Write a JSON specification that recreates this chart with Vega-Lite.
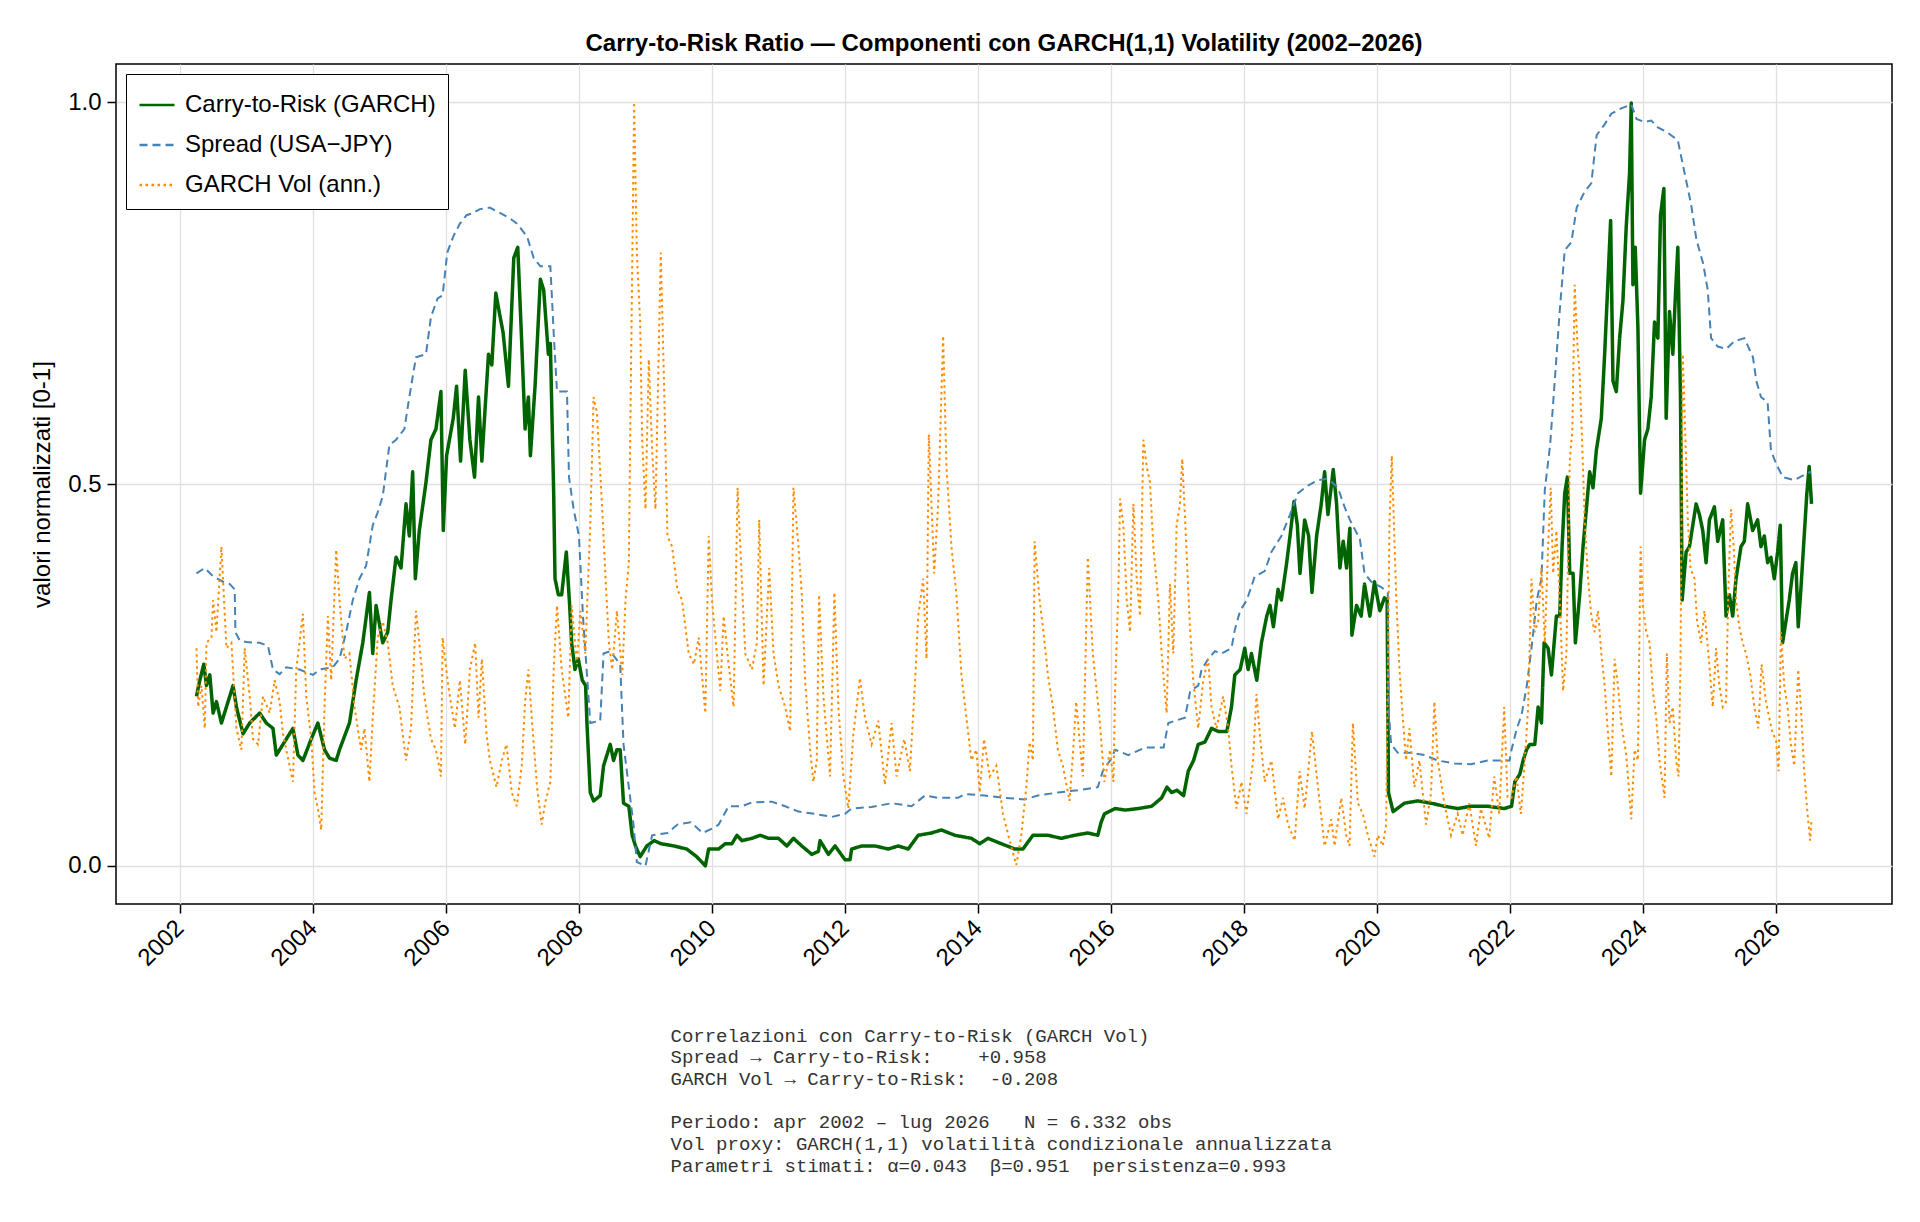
{
  "$schema": "https://vega.github.io/schema/vega-lite/v6.json",
  "width": 1776,
  "height": 840,
  "autosize": {"type": "none"},
  "padding": {"left": 116, "top": 64, "right": 28, "bottom": 318},
  "background": "white",
  "title": {
    "text": "Carry-to-Risk Ratio — Componenti con GARCH(1,1) Volatility (2002–2026)",
    "font": "Liberation Sans",
    "fontSize": 24,
    "fontWeight": "bold",
    "color": "black",
    "anchor": "middle",
    "offset": 8
  },
  "config": {
    "font": "Liberation Sans",
    "view": {"stroke": "black", "strokeWidth": 1.5},
    "axis": {
      "domain": false,
      "grid": true,
      "gridColor": "#e0e0e0",
      "gridWidth": 1.3,
      "tickColor": "black",
      "tickWidth": 1.5,
      "tickSize": 9,
      "labelFont": "Liberation Sans",
      "labelFontSize": 24,
      "labelColor": "black",
      "titleFont": "Liberation Sans",
      "titleFontSize": 24,
      "titleFontWeight": "normal",
      "titleColor": "black"
    },
    "legend": {
      "orient": "top-left",
      "offset": 10,
      "padding": 12,
      "strokeColor": "black",
      "fillColor": "white",
      "labelFont": "Liberation Sans",
      "labelFontSize": 24,
      "labelColor": "black",
      "labelOffset": 9,
      "labelLimit": 0,
      "rowPadding": 9,
      "symbolSize": 1225,
      "symbolType": "stroke",
      "symbolStrokeWidth": 2.5,
      "cornerRadius": 0
    }
  },
  "datasets": {
    "carry": [
      {"t":2002.25,"v":0.222},{"t":2002.30,"v":0.243},{"t":2002.36,"v":0.264},{"t":2002.40,"v":0.236},{"t":2002.45,"v":0.25},
      {"t":2002.50,"v":0.20},{"t":2002.55,"v":0.215},{"t":2002.625,"v":0.187},{"t":2002.70,"v":0.208},{"t":2002.80,"v":0.236},
      {"t":2002.85,"v":0.208},{"t":2002.95,"v":0.173},{"t":2003.05,"v":0.187},{"t":2003.20,"v":0.20},{"t":2003.30,"v":0.187},
      {"t":2003.40,"v":0.18},{"t":2003.45,"v":0.145},{"t":2003.55,"v":0.159},{"t":2003.70,"v":0.18},{"t":2003.775,"v":0.145},
      {"t":2003.85,"v":0.138},{"t":2003.975,"v":0.166},{"t":2004.075,"v":0.187},{"t":2004.175,"v":0.152},{"t":2004.25,"v":0.141},
      {"t":2004.35,"v":0.138},{"t":2004.40,"v":0.152},{"t":2004.55,"v":0.187},{"t":2004.65,"v":0.243},{"t":2004.75,"v":0.292},
      {"t":2004.85,"v":0.358},{"t":2004.90,"v":0.278},{"t":2004.95,"v":0.341},{"t":2005.05,"v":0.292},{"t":2005.125,"v":0.306},
      {"t":2005.175,"v":0.348},{"t":2005.25,"v":0.404},{"t":2005.325,"v":0.39},{"t":2005.40,"v":0.474},{"t":2005.45,"v":0.432},
      {"t":2005.50,"v":0.516},{"t":2005.54,"v":0.376},{"t":2005.60,"v":0.439},{"t":2005.70,"v":0.502},{"t":2005.775,"v":0.558},
      {"t":2005.85,"v":0.572},{"t":2005.925,"v":0.621},{"t":2005.96,"v":0.439},{"t":2006.01,"v":0.537},{"t":2006.11,"v":0.586},
      {"t":2006.16,"v":0.628},{"t":2006.22,"v":0.53},{"t":2006.29,"v":0.649},{"t":2006.36,"v":0.558},{"t":2006.43,"v":0.509},
      {"t":2006.49,"v":0.614},{"t":2006.54,"v":0.53},{"t":2006.64,"v":0.67},{"t":2006.69,"v":0.656},{"t":2006.75,"v":0.75},
      {"t":2006.80,"v":0.726},{"t":2006.86,"v":0.698},{"t":2006.94,"v":0.628},{"t":2007.02,"v":0.796},{"t":2007.08,"v":0.81},
      {"t":2007.14,"v":0.684},{"t":2007.19,"v":0.572},{"t":2007.24,"v":0.614},{"t":2007.27,"v":0.537},{"t":2007.34,"v":0.628},
      {"t":2007.42,"v":0.768},{"t":2007.47,"v":0.754},{"t":2007.54,"v":0.67},{"t":2007.57,"v":0.684},{"t":2007.62,"v":0.488},
      {"t":2007.64,"v":0.376},{"t":2007.69,"v":0.355},{"t":2007.74,"v":0.355},{"t":2007.81,"v":0.411},{"t":2007.86,"v":0.341},
      {"t":2007.89,"v":0.292},{"t":2007.94,"v":0.257},{"t":2007.99,"v":0.271},{"t":2008.05,"v":0.243},{"t":2008.10,"v":0.236},
      {"t":2008.12,"v":0.187},{"t":2008.17,"v":0.096},{"t":2008.22,"v":0.085},{"t":2008.32,"v":0.092},{"t":2008.37,"v":0.131},
      {"t":2008.42,"v":0.145},{"t":2008.47,"v":0.159},{"t":2008.52,"v":0.138},{"t":2008.57,"v":0.152},{"t":2008.62,"v":0.152},
      {"t":2008.67,"v":0.082},{"t":2008.75,"v":0.078},{"t":2008.80,"v":0.04},{"t":2008.85,"v":0.026},{"t":2008.92,"v":0.012},
      {"t":2009.02,"v":0.026},{"t":2009.13,"v":0.033},{"t":2009.23,"v":0.029},{"t":2009.43,"v":0.026},{"t":2009.62,"v":0.022},
      {"t":2009.77,"v":0.012},{"t":2009.90,"v":0.0},{"t":2009.95,"v":0.022},{"t":2010.10,"v":0.022},{"t":2010.20,"v":0.029},
      {"t":2010.30,"v":0.029},{"t":2010.375,"v":0.04},{"t":2010.45,"v":0.033},{"t":2010.60,"v":0.036},{"t":2010.725,"v":0.04},
      {"t":2010.85,"v":0.036},{"t":2011.00,"v":0.036},{"t":2011.125,"v":0.026},{"t":2011.225,"v":0.036},{"t":2011.35,"v":0.026},
      {"t":2011.50,"v":0.015},{"t":2011.60,"v":0.019},{"t":2011.625,"v":0.033},{"t":2011.75,"v":0.015},{"t":2011.85,"v":0.026},
      {"t":2012.00,"v":0.008},{"t":2012.075,"v":0.008},{"t":2012.10,"v":0.022},{"t":2012.25,"v":0.026},{"t":2012.45,"v":0.026},
      {"t":2012.65,"v":0.022},{"t":2012.80,"v":0.026},{"t":2012.95,"v":0.022},{"t":2013.10,"v":0.04},{"t":2013.30,"v":0.043},
      {"t":2013.45,"v":0.047},{"t":2013.65,"v":0.04},{"t":2013.90,"v":0.036},{"t":2014.025,"v":0.029},{"t":2014.15,"v":0.036},
      {"t":2014.35,"v":0.029},{"t":2014.55,"v":0.022},{"t":2014.675,"v":0.022},{"t":2014.825,"v":0.04},{"t":2015.05,"v":0.04},
      {"t":2015.25,"v":0.036},{"t":2015.45,"v":0.04},{"t":2015.65,"v":0.043},{"t":2015.80,"v":0.04},{"t":2015.85,"v":0.057},
      {"t":2015.90,"v":0.068},{"t":2016.06,"v":0.075},{"t":2016.21,"v":0.073},{"t":2016.41,"v":0.075},{"t":2016.61,"v":0.078},
      {"t":2016.76,"v":0.089},{"t":2016.84,"v":0.103},{"t":2016.91,"v":0.096},{"t":2016.99,"v":0.099},{"t":2017.09,"v":0.092},
      {"t":2017.16,"v":0.124},{"t":2017.24,"v":0.138},{"t":2017.31,"v":0.159},{"t":2017.41,"v":0.162},{"t":2017.51,"v":0.18},
      {"t":2017.61,"v":0.176},{"t":2017.74,"v":0.176},{"t":2017.81,"v":0.208},{"t":2017.86,"v":0.25},{"t":2017.94,"v":0.257},
      {"t":2018.01,"v":0.285},{"t":2018.06,"v":0.257},{"t":2018.11,"v":0.278},{"t":2018.19,"v":0.243},{"t":2018.26,"v":0.292},
      {"t":2018.34,"v":0.327},{"t":2018.39,"v":0.341},{"t":2018.44,"v":0.313},{"t":2018.51,"v":0.362},{"t":2018.56,"v":0.348},
      {"t":2018.64,"v":0.397},{"t":2018.69,"v":0.432},{"t":2018.75,"v":0.477},{"t":2018.80,"v":0.446},{"t":2018.84,"v":0.383},
      {"t":2018.91,"v":0.453},{"t":2018.97,"v":0.432},{"t":2019.02,"v":0.358},{"t":2019.09,"v":0.432},{"t":2019.16,"v":0.474},
      {"t":2019.21,"v":0.516},{"t":2019.26,"v":0.46},{"t":2019.34,"v":0.519},{"t":2019.39,"v":0.474},{"t":2019.44,"v":0.39},
      {"t":2019.49,"v":0.425},{"t":2019.54,"v":0.39},{"t":2019.59,"v":0.442},{"t":2019.62,"v":0.302},{"t":2019.69,"v":0.341},
      {"t":2019.76,"v":0.327},{"t":2019.81,"v":0.369},{"t":2019.89,"v":0.327},{"t":2019.96,"v":0.372},{"t":2020.04,"v":0.334},
      {"t":2020.11,"v":0.351},{"t":2020.15,"v":0.348},{"t":2020.17,"v":0.096},{"t":2020.24,"v":0.071},{"t":2020.41,"v":0.082},
      {"t":2020.61,"v":0.085},{"t":2020.81,"v":0.082},{"t":2021.01,"v":0.078},{"t":2021.21,"v":0.075},{"t":2021.41,"v":0.078},
      {"t":2021.66,"v":0.078},{"t":2021.91,"v":0.075},{"t":2022.02,"v":0.078},{"t":2022.07,"v":0.11},{"t":2022.145,"v":0.12},
      {"t":2022.195,"v":0.138},{"t":2022.245,"v":0.152},{"t":2022.295,"v":0.159},{"t":2022.37,"v":0.159},{"t":2022.42,"v":0.208},
      {"t":2022.47,"v":0.187},{"t":2022.51,"v":0.292},{"t":2022.57,"v":0.285},{"t":2022.62,"v":0.25},{"t":2022.695,"v":0.327},
      {"t":2022.745,"v":0.327},{"t":2022.78,"v":0.418},{"t":2022.82,"v":0.488},{"t":2022.86,"v":0.509},{"t":2022.895,"v":0.383},
      {"t":2022.945,"v":0.383},{"t":2022.98,"v":0.292},{"t":2023.045,"v":0.355},{"t":2023.095,"v":0.418},{"t":2023.145,"v":0.467},
      {"t":2023.195,"v":0.516},{"t":2023.245,"v":0.495},{"t":2023.295,"v":0.544},{"t":2023.37,"v":0.586},{"t":2023.42,"v":0.67},
      {"t":2023.46,"v":0.747},{"t":2023.51,"v":0.845},{"t":2023.545,"v":0.635},{"t":2023.595,"v":0.621},{"t":2023.645,"v":0.691},
      {"t":2023.695,"v":0.74},{"t":2023.745,"v":0.838},{"t":2023.795,"v":0.908},{"t":2023.82,"v":0.999},{"t":2023.845,"v":0.761},
      {"t":2023.88,"v":0.81},{"t":2023.92,"v":0.705},{"t":2023.96,"v":0.488},{"t":2024.02,"v":0.558},{"t":2024.07,"v":0.572},
      {"t":2024.12,"v":0.614},{"t":2024.17,"v":0.712},{"t":2024.22,"v":0.691},{"t":2024.26,"v":0.852},{"t":2024.31,"v":0.887},
      {"t":2024.345,"v":0.586},{"t":2024.395,"v":0.726},{"t":2024.445,"v":0.67},{"t":2024.48,"v":0.74},{"t":2024.52,"v":0.81},
      {"t":2024.56,"v":0.614},{"t":2024.585,"v":0.348},{"t":2024.645,"v":0.411},{"t":2024.695,"v":0.418},{"t":2024.745,"v":0.446},
      {"t":2024.795,"v":0.474},{"t":2024.845,"v":0.46},{"t":2024.895,"v":0.439},{"t":2024.945,"v":0.397},{"t":2024.995,"v":0.453},
      {"t":2025.07,"v":0.47},{"t":2025.12,"v":0.425},{"t":2025.195,"v":0.453},{"t":2025.245,"v":0.327},{"t":2025.295,"v":0.355},
      {"t":2025.345,"v":0.327},{"t":2025.395,"v":0.376},{"t":2025.47,"v":0.418},{"t":2025.52,"v":0.425},{"t":2025.57,"v":0.474},
      {"t":2025.645,"v":0.439},{"t":2025.72,"v":0.453},{"t":2025.77,"v":0.418},{"t":2025.82,"v":0.432},{"t":2025.87,"v":0.397},
      {"t":2025.92,"v":0.404},{"t":2025.97,"v":0.376},{"t":2026.02,"v":0.411},{"t":2026.06,"v":0.446},{"t":2026.095,"v":0.292},
      {"t":2026.145,"v":0.32},{"t":2026.195,"v":0.348},{"t":2026.245,"v":0.383},{"t":2026.295,"v":0.397},{"t":2026.33,"v":0.313},
      {"t":2026.37,"v":0.362},{"t":2026.42,"v":0.432},{"t":2026.46,"v":0.488},{"t":2026.495,"v":0.523},{"t":2026.53,"v":0.474}
    ],
    "spread": [
      {"t":2002.25,"v":0.383},{"t":2002.375,"v":0.39},{"t":2002.50,"v":0.379},{"t":2002.65,"v":0.372},{"t":2002.75,"v":0.369},
      {"t":2002.825,"v":0.362},{"t":2002.835,"v":0.306},{"t":2002.90,"v":0.295},{"t":2003.00,"v":0.293},{"t":2003.20,"v":0.292},
      {"t":2003.325,"v":0.288},{"t":2003.40,"v":0.257},{"t":2003.50,"v":0.251},{"t":2003.60,"v":0.26},{"t":2003.80,"v":0.257},
      {"t":2004.00,"v":0.25},{"t":2004.10,"v":0.257},{"t":2004.30,"v":0.26},{"t":2004.40,"v":0.271},{"t":2004.50,"v":0.306},
      {"t":2004.60,"v":0.348},{"t":2004.70,"v":0.376},{"t":2004.80,"v":0.393},{"t":2004.90,"v":0.446},{"t":2004.975,"v":0.463},
      {"t":2005.05,"v":0.484},{"t":2005.15,"v":0.551},{"t":2005.25,"v":0.558},{"t":2005.375,"v":0.572},{"t":2005.45,"v":0.614},
      {"t":2005.55,"v":0.666},{"t":2005.70,"v":0.67},{"t":2005.775,"v":0.719},{"t":2005.875,"v":0.743},{"t":2005.95,"v":0.747},
      {"t":2006.02,"v":0.803},{"t":2006.11,"v":0.824},{"t":2006.21,"v":0.841},{"t":2006.31,"v":0.852},{"t":2006.41,"v":0.855},
      {"t":2006.51,"v":0.86},{"t":2006.66,"v":0.862},{"t":2006.81,"v":0.855},{"t":2006.96,"v":0.848},{"t":2007.07,"v":0.841},
      {"t":2007.22,"v":0.824},{"t":2007.32,"v":0.796},{"t":2007.42,"v":0.785},{"t":2007.57,"v":0.785},{"t":2007.62,"v":0.698},
      {"t":2007.67,"v":0.621},{"t":2007.82,"v":0.621},{"t":2007.85,"v":0.509},{"t":2007.92,"v":0.467},{"t":2008.00,"v":0.432},
      {"t":2008.06,"v":0.327},{"t":2008.17,"v":0.187},{"t":2008.32,"v":0.19},{"t":2008.37,"v":0.278},{"t":2008.47,"v":0.281},
      {"t":2008.62,"v":0.264},{"t":2008.67,"v":0.159},{"t":2008.77,"v":0.089},{"t":2008.82,"v":0.054},{"t":2008.87,"v":0.005},
      {"t":2009.00,"v":0.0},{"t":2009.10,"v":0.04},{"t":2009.33,"v":0.043},{"t":2009.48,"v":0.054},{"t":2009.68,"v":0.057},
      {"t":2009.86,"v":0.043},{"t":2010.03,"v":0.05},{"t":2010.10,"v":0.054},{"t":2010.25,"v":0.078},{"t":2010.45,"v":0.078},
      {"t":2010.60,"v":0.083},{"t":2010.90,"v":0.084},{"t":2011.10,"v":0.078},{"t":2011.30,"v":0.071},{"t":2011.55,"v":0.068},
      {"t":2011.80,"v":0.064},{"t":2012.00,"v":0.068},{"t":2012.10,"v":0.075},{"t":2012.40,"v":0.077},{"t":2012.70,"v":0.082},
      {"t":2013.00,"v":0.078},{"t":2013.20,"v":0.092},{"t":2013.40,"v":0.089},{"t":2013.70,"v":0.089},{"t":2013.80,"v":0.094},
      {"t":2014.10,"v":0.092},{"t":2014.40,"v":0.089},{"t":2014.70,"v":0.087},{"t":2014.90,"v":0.092},{"t":2015.20,"v":0.096},
      {"t":2015.50,"v":0.099},{"t":2015.80,"v":0.103},{"t":2015.875,"v":0.124},{"t":2016.00,"v":0.14},{"t":2016.06,"v":0.152},
      {"t":2016.26,"v":0.145},{"t":2016.51,"v":0.155},{"t":2016.79,"v":0.155},{"t":2016.86,"v":0.187},{"t":2017.11,"v":0.194},
      {"t":2017.19,"v":0.229},{"t":2017.31,"v":0.236},{"t":2017.36,"v":0.257},{"t":2017.46,"v":0.271},{"t":2017.56,"v":0.281},
      {"t":2017.66,"v":0.278},{"t":2017.81,"v":0.285},{"t":2017.86,"v":0.309},{"t":2017.94,"v":0.334},{"t":2018.04,"v":0.348},
      {"t":2018.16,"v":0.379},{"t":2018.31,"v":0.386},{"t":2018.41,"v":0.411},{"t":2018.56,"v":0.432},{"t":2018.69,"v":0.46},
      {"t":2018.81,"v":0.488},{"t":2018.96,"v":0.498},{"t":2019.11,"v":0.505},{"t":2019.26,"v":0.507},{"t":2019.41,"v":0.495},
      {"t":2019.51,"v":0.47},{"t":2019.59,"v":0.453},{"t":2019.74,"v":0.428},{"t":2019.81,"v":0.383},{"t":2019.91,"v":0.372},
      {"t":2020.06,"v":0.365},{"t":2020.16,"v":0.358},{"t":2020.17,"v":0.208},{"t":2020.21,"v":0.159},{"t":2020.31,"v":0.148},
      {"t":2020.51,"v":0.148},{"t":2020.71,"v":0.145},{"t":2020.91,"v":0.138},{"t":2021.16,"v":0.134},{"t":2021.41,"v":0.133},
      {"t":2021.66,"v":0.138},{"t":2021.99,"v":0.138},{"t":2022.02,"v":0.152},{"t":2022.10,"v":0.18},{"t":2022.17,"v":0.197},
      {"t":2022.25,"v":0.236},{"t":2022.32,"v":0.285},{"t":2022.40,"v":0.348},{"t":2022.47,"v":0.376},{"t":2022.52,"v":0.492},
      {"t":2022.60,"v":0.551},{"t":2022.67,"v":0.635},{"t":2022.75,"v":0.733},{"t":2022.82,"v":0.806},{"t":2022.92,"v":0.817},
      {"t":2023.00,"v":0.862},{"t":2023.12,"v":0.883},{"t":2023.22,"v":0.894},{"t":2023.30,"v":0.957},{"t":2023.42,"v":0.971},
      {"t":2023.52,"v":0.985},{"t":2023.67,"v":0.992},{"t":2023.82,"v":0.997},{"t":2023.90,"v":0.978},{"t":2024.02,"v":0.974},
      {"t":2024.12,"v":0.976},{"t":2024.22,"v":0.967},{"t":2024.37,"v":0.96},{"t":2024.52,"v":0.95},{"t":2024.62,"v":0.908},
      {"t":2024.72,"v":0.866},{"t":2024.80,"v":0.82},{"t":2024.90,"v":0.789},{"t":2024.97,"v":0.754},{"t":2025.02,"v":0.691},
      {"t":2025.12,"v":0.68},{"t":2025.25,"v":0.677},{"t":2025.37,"v":0.687},{"t":2025.52,"v":0.691},{"t":2025.65,"v":0.666},
      {"t":2025.70,"v":0.635},{"t":2025.77,"v":0.614},{"t":2025.87,"v":0.607},{"t":2025.92,"v":0.544},{"t":2026.00,"v":0.526},
      {"t":2026.10,"v":0.509},{"t":2026.27,"v":0.505},{"t":2026.42,"v":0.512},{"t":2026.52,"v":0.516}
    ],
    "vol": [
      {"t":2002.25,"v":0.285},{"t":2002.275,"v":0.208},{"t":2002.325,"v":0.236},{"t":2002.375,"v":0.18},{"t":2002.40,"v":0.292},
      {"t":2002.475,"v":0.299},{"t":2002.50,"v":0.348},{"t":2002.55,"v":0.306},{"t":2002.625,"v":0.418},{"t":2002.70,"v":0.285},
      {"t":2002.775,"v":0.292},{"t":2002.85,"v":0.18},{"t":2002.925,"v":0.152},{"t":2002.975,"v":0.285},{"t":2003.05,"v":0.222},
      {"t":2003.10,"v":0.166},{"t":2003.175,"v":0.159},{"t":2003.25,"v":0.222},{"t":2003.35,"v":0.20},{"t":2003.425,"v":0.243},
      {"t":2003.50,"v":0.215},{"t":2003.55,"v":0.173},{"t":2003.65,"v":0.131},{"t":2003.70,"v":0.11},{"t":2003.75,"v":0.257},
      {"t":2003.85,"v":0.33},{"t":2003.90,"v":0.222},{"t":2003.975,"v":0.166},{"t":2004.025,"v":0.096},{"t":2004.075,"v":0.075},
      {"t":2004.125,"v":0.047},{"t":2004.175,"v":0.208},{"t":2004.225,"v":0.327},{"t":2004.275,"v":0.243},{"t":2004.35,"v":0.414},
      {"t":2004.40,"v":0.348},{"t":2004.475,"v":0.271},{"t":2004.55,"v":0.278},{"t":2004.625,"v":0.208},{"t":2004.725,"v":0.152},
      {"t":2004.775,"v":0.18},{"t":2004.85,"v":0.11},{"t":2004.90,"v":0.194},{"t":2004.975,"v":0.299},{"t":2005.05,"v":0.32},
      {"t":2005.125,"v":0.292},{"t":2005.20,"v":0.236},{"t":2005.30,"v":0.208},{"t":2005.40,"v":0.138},{"t":2005.475,"v":0.18},
      {"t":2005.55,"v":0.334},{"t":2005.60,"v":0.292},{"t":2005.675,"v":0.222},{"t":2005.775,"v":0.166},{"t":2005.85,"v":0.152},
      {"t":2005.925,"v":0.117},{"t":2005.95,"v":0.299},{"t":2006.035,"v":0.236},{"t":2006.135,"v":0.18},{"t":2006.21,"v":0.243},
      {"t":2006.29,"v":0.159},{"t":2006.36,"v":0.257},{"t":2006.44,"v":0.292},{"t":2006.49,"v":0.194},{"t":2006.54,"v":0.271},
      {"t":2006.61,"v":0.173},{"t":2006.66,"v":0.138},{"t":2006.76,"v":0.103},{"t":2006.84,"v":0.138},{"t":2006.91,"v":0.159},
      {"t":2006.99,"v":0.096},{"t":2007.065,"v":0.078},{"t":2007.14,"v":0.131},{"t":2007.19,"v":0.215},{"t":2007.24,"v":0.257},
      {"t":2007.29,"v":0.194},{"t":2007.37,"v":0.103},{"t":2007.44,"v":0.054},{"t":2007.49,"v":0.082},{"t":2007.57,"v":0.11},
      {"t":2007.62,"v":0.257},{"t":2007.67,"v":0.341},{"t":2007.74,"v":0.257},{"t":2007.84,"v":0.194},{"t":2007.89,"v":0.341},
      {"t":2007.97,"v":0.264},{"t":2008.02,"v":0.334},{"t":2008.095,"v":0.278},{"t":2008.17,"v":0.446},{"t":2008.22,"v":0.614},
      {"t":2008.27,"v":0.593},{"t":2008.35,"v":0.467},{"t":2008.40,"v":0.376},{"t":2008.45,"v":0.292},{"t":2008.50,"v":0.257},
      {"t":2008.57,"v":0.334},{"t":2008.65,"v":0.25},{"t":2008.70,"v":0.348},{"t":2008.75,"v":0.397},{"t":2008.77,"v":0.558},
      {"t":2008.80,"v":0.782},{"t":2008.83,"v":1.0},{"t":2008.87,"v":0.803},{"t":2008.92,"v":0.712},{"t":2008.95,"v":0.558},
      {"t":2009.00,"v":0.467},{"t":2009.05,"v":0.663},{"t":2009.10,"v":0.544},{"t":2009.15,"v":0.467},{"t":2009.23,"v":0.803},
      {"t":2009.28,"v":0.628},{"t":2009.33,"v":0.432},{"t":2009.40,"v":0.418},{"t":2009.48,"v":0.362},{"t":2009.55,"v":0.348},
      {"t":2009.65,"v":0.278},{"t":2009.73,"v":0.264},{"t":2009.80,"v":0.299},{"t":2009.90,"v":0.2},{"t":2009.95,"v":0.432},
      {"t":2010.00,"v":0.348},{"t":2010.05,"v":0.299},{"t":2010.125,"v":0.229},{"t":2010.175,"v":0.327},{"t":2010.25,"v":0.264},
      {"t":2010.325,"v":0.208},{"t":2010.385,"v":0.495},{"t":2010.425,"v":0.418},{"t":2010.50,"v":0.278},{"t":2010.60,"v":0.257},
      {"t":2010.675,"v":0.292},{"t":2010.71,"v":0.453},{"t":2010.775,"v":0.236},{"t":2010.86,"v":0.39},{"t":2010.925,"v":0.278},
      {"t":2011.00,"v":0.236},{"t":2011.10,"v":0.208},{"t":2011.175,"v":0.176},{"t":2011.225,"v":0.495},{"t":2011.30,"v":0.418},
      {"t":2011.35,"v":0.355},{"t":2011.40,"v":0.243},{"t":2011.475,"v":0.152},{"t":2011.525,"v":0.11},{"t":2011.575,"v":0.138},
      {"t":2011.61,"v":0.355},{"t":2011.675,"v":0.222},{"t":2011.775,"v":0.117},{"t":2011.84,"v":0.358},{"t":2011.90,"v":0.208},
      {"t":2011.975,"v":0.117},{"t":2012.05,"v":0.075},{"t":2012.125,"v":0.173},{"t":2012.225,"v":0.246},{"t":2012.30,"v":0.194},
      {"t":2012.40,"v":0.159},{"t":2012.50,"v":0.19},{"t":2012.60,"v":0.106},{"t":2012.70,"v":0.187},{"t":2012.775,"v":0.117},
      {"t":2012.89,"v":0.166},{"t":2012.975,"v":0.124},{"t":2013.05,"v":0.236},{"t":2013.10,"v":0.327},{"t":2013.175,"v":0.376},
      {"t":2013.225,"v":0.271},{"t":2013.26,"v":0.565},{"t":2013.34,"v":0.383},{"t":2013.40,"v":0.474},{"t":2013.475,"v":0.694},
      {"t":2013.525,"v":0.523},{"t":2013.60,"v":0.418},{"t":2013.675,"v":0.355},{"t":2013.75,"v":0.25},{"t":2013.825,"v":0.194},
      {"t":2013.90,"v":0.138},{"t":2013.975,"v":0.152},{"t":2014.025,"v":0.096},{"t":2014.09,"v":0.166},{"t":2014.175,"v":0.117},
      {"t":2014.275,"v":0.131},{"t":2014.375,"v":0.068},{"t":2014.475,"v":0.033},{"t":2014.575,"v":0.001},{"t":2014.65,"v":0.04},
      {"t":2014.725,"v":0.103},{"t":2014.775,"v":0.162},{"t":2014.825,"v":0.138},{"t":2014.85,"v":0.425},{"t":2014.925,"v":0.348},
      {"t":2014.975,"v":0.313},{"t":2015.05,"v":0.25},{"t":2015.125,"v":0.208},{"t":2015.20,"v":0.152},{"t":2015.275,"v":0.131},
      {"t":2015.375,"v":0.085},{"t":2015.425,"v":0.145},{"t":2015.475,"v":0.215},{"t":2015.575,"v":0.117},{"t":2015.65,"v":0.404},
      {"t":2015.725,"v":0.278},{"t":2015.825,"v":0.194},{"t":2015.90,"v":0.11},{"t":2015.985,"v":0.152},{"t":2016.035,"v":0.11},
      {"t":2016.06,"v":0.229},{"t":2016.11,"v":0.362},{"t":2016.135,"v":0.481},{"t":2016.185,"v":0.446},{"t":2016.235,"v":0.348},
      {"t":2016.285,"v":0.306},{"t":2016.335,"v":0.474},{"t":2016.385,"v":0.376},{"t":2016.435,"v":0.327},{"t":2016.485,"v":0.558},
      {"t":2016.535,"v":0.523},{"t":2016.585,"v":0.502},{"t":2016.635,"v":0.418},{"t":2016.71,"v":0.348},{"t":2016.76,"v":0.278},
      {"t":2016.835,"v":0.2},{"t":2016.885,"v":0.369},{"t":2016.935,"v":0.278},{"t":2016.985,"v":0.446},{"t":2017.035,"v":0.474},
      {"t":2017.07,"v":0.533},{"t":2017.12,"v":0.439},{"t":2017.185,"v":0.313},{"t":2017.235,"v":0.243},{"t":2017.31,"v":0.18},
      {"t":2017.385,"v":0.243},{"t":2017.46,"v":0.271},{"t":2017.51,"v":0.208},{"t":2017.585,"v":0.18},{"t":2017.685,"v":0.222},
      {"t":2017.76,"v":0.18},{"t":2017.81,"v":0.131},{"t":2017.885,"v":0.075},{"t":2017.96,"v":0.11},{"t":2018.035,"v":0.068},
      {"t":2018.135,"v":0.138},{"t":2018.185,"v":0.225},{"t":2018.235,"v":0.173},{"t":2018.31,"v":0.11},{"t":2018.41,"v":0.138},
      {"t":2018.51,"v":0.061},{"t":2018.585,"v":0.089},{"t":2018.66,"v":0.054},{"t":2018.76,"v":0.033},{"t":2018.835,"v":0.124},
      {"t":2018.91,"v":0.075},{"t":2019.02,"v":0.176},{"t":2019.11,"v":0.103},{"t":2019.21,"v":0.026},{"t":2019.31,"v":0.061},
      {"t":2019.36,"v":0.026},{"t":2019.46,"v":0.089},{"t":2019.535,"v":0.04},{"t":2019.585,"v":0.026},{"t":2019.635,"v":0.187},
      {"t":2019.71,"v":0.082},{"t":2019.785,"v":0.068},{"t":2019.86,"v":0.04},{"t":2019.96,"v":0.012},{"t":2020.01,"v":0.04},
      {"t":2020.085,"v":0.026},{"t":2020.135,"v":0.054},{"t":2020.185,"v":0.446},{"t":2020.22,"v":0.537},{"t":2020.285,"v":0.355},
      {"t":2020.335,"v":0.257},{"t":2020.385,"v":0.194},{"t":2020.435,"v":0.138},{"t":2020.485,"v":0.18},{"t":2020.56,"v":0.103},
      {"t":2020.635,"v":0.138},{"t":2020.735,"v":0.054},{"t":2020.81,"v":0.096},{"t":2020.86,"v":0.215},{"t":2020.91,"v":0.138},
      {"t":2021.01,"v":0.082},{"t":2021.11,"v":0.04},{"t":2021.21,"v":0.068},{"t":2021.285,"v":0.04},{"t":2021.385,"v":0.082},
      {"t":2021.485,"v":0.026},{"t":2021.56,"v":0.075},{"t":2021.685,"v":0.036},{"t":2021.76,"v":0.117},{"t":2021.835,"v":0.068},
      {"t":2021.91,"v":0.208},{"t":2021.96,"v":0.089},{"t":2022.02,"v":0.089},{"t":2022.095,"v":0.117},{"t":2022.16,"v":0.068},
      {"t":2022.22,"v":0.138},{"t":2022.27,"v":0.208},{"t":2022.32,"v":0.376},{"t":2022.37,"v":0.306},{"t":2022.42,"v":0.32},
      {"t":2022.47,"v":0.39},{"t":2022.52,"v":0.292},{"t":2022.57,"v":0.418},{"t":2022.61,"v":0.495},{"t":2022.645,"v":0.383},
      {"t":2022.695,"v":0.439},{"t":2022.745,"v":0.348},{"t":2022.795,"v":0.229},{"t":2022.845,"v":0.278},{"t":2022.895,"v":0.53},
      {"t":2022.935,"v":0.572},{"t":2022.97,"v":0.761},{"t":2023.01,"v":0.684},{"t":2023.045,"v":0.642},{"t":2023.08,"v":0.558},
      {"t":2023.12,"v":0.453},{"t":2023.17,"v":0.376},{"t":2023.22,"v":0.327},{"t":2023.27,"v":0.306},{"t":2023.32,"v":0.334},
      {"t":2023.37,"v":0.278},{"t":2023.42,"v":0.236},{"t":2023.47,"v":0.173},{"t":2023.52,"v":0.117},{"t":2023.57,"v":0.271},
      {"t":2023.62,"v":0.236},{"t":2023.67,"v":0.187},{"t":2023.745,"v":0.145},{"t":2023.82,"v":0.061},{"t":2023.87,"v":0.152},
      {"t":2023.92,"v":0.138},{"t":2023.96,"v":0.418},{"t":2023.995,"v":0.341},{"t":2024.045,"v":0.306},{"t":2024.095,"v":0.292},
      {"t":2024.145,"v":0.229},{"t":2024.195,"v":0.194},{"t":2024.245,"v":0.138},{"t":2024.32,"v":0.089},{"t":2024.355,"v":0.278},
      {"t":2024.395,"v":0.187},{"t":2024.445,"v":0.208},{"t":2024.495,"v":0.138},{"t":2024.53,"v":0.117},{"t":2024.56,"v":0.264},
      {"t":2024.595,"v":0.67},{"t":2024.63,"v":0.572},{"t":2024.67,"v":0.453},{"t":2024.71,"v":0.39},{"t":2024.77,"v":0.376},
      {"t":2024.81,"v":0.32},{"t":2024.87,"v":0.292},{"t":2024.92,"v":0.334},{"t":2024.98,"v":0.278},{"t":2025.045,"v":0.208},
      {"t":2025.095,"v":0.285},{"t":2025.145,"v":0.236},{"t":2025.195,"v":0.208},{"t":2025.245,"v":0.215},{"t":2025.28,"v":0.362},
      {"t":2025.32,"v":0.467},{"t":2025.36,"v":0.418},{"t":2025.395,"v":0.348},{"t":2025.445,"v":0.313},{"t":2025.495,"v":0.292},
      {"t":2025.545,"v":0.278},{"t":2025.61,"v":0.25},{"t":2025.67,"v":0.208},{"t":2025.73,"v":0.18},{"t":2025.78,"v":0.264},
      {"t":2025.845,"v":0.215},{"t":2025.895,"v":0.194},{"t":2025.945,"v":0.173},{"t":2025.995,"v":0.166},{"t":2026.035,"v":0.124},
      {"t":2026.07,"v":0.306},{"t":2026.12,"v":0.236},{"t":2026.17,"v":0.208},{"t":2026.22,"v":0.159},{"t":2026.27,"v":0.131},
      {"t":2026.33,"v":0.257},{"t":2026.37,"v":0.208},{"t":2026.42,"v":0.124},{"t":2026.47,"v":0.068},{"t":2026.51,"v":0.033},
      {"t":2026.53,"v":0.061}
    ]
  },
  "encoding": {
    "x": {
      "field": "t",
      "type": "quantitative",
      "scale": {"domain": [2001.04, 2027.74], "nice": false, "zero": false},
      "axis": {
        "values": [2002, 2004, 2006, 2008, 2010, 2012, 2014, 2016, 2018, 2020, 2022, 2024, 2026],
        "format": "d",
        "labelAngle": -45,
        "labelAlign": "right",
        "labelBaseline": "middle",
        "labelPadding": 11,
        "title": [
          "Correlazioni con Carry-to-Risk (GARCH Vol)",
          "Spread → Carry-to-Risk:\u00a0\u00a0\u00a0\u00a0+0.958",
          "GARCH Vol → Carry-to-Risk:\u00a0\u00a0-0.208",
          "\u200b",
          "Periodo: apr 2002 – lug 2026\u00a0\u00a0\u00a0N = 6.332 obs",
          "Vol proxy: GARCH(1,1) volatilità condizionale annualizzata",
          "Parametri stimati: α=0.043\u00a0\u00a0β=0.951\u00a0\u00a0persistenza=0.993"
        ],
        "titleFont": "Liberation Mono",
        "titleFontSize": 19,
        "titleColor": "#333333",
        "titleAlign": "left",
        "titleBaseline": "top",
        "titleX": 554,
        "titleY": 122,
        "titleLineHeight": 21.7
      }
    },
    "y": {
      "field": "v",
      "type": "quantitative",
      "scale": {"domain": [-0.05, 1.05], "nice": false, "zero": false},
      "axis": {
        "values": [0, 0.5, 1],
        "format": ".1f",
        "labelPadding": 6,
        "title": "valori normalizzati [0-1]",
        "titlePadding": 13
      }
    }
  },
  "layer": [
    {
      "data": {"name": "carry"},
      "mark": {"type": "line", "strokeJoin": "round", "strokeWidth": 3.5},
      "encoding": {
        "color": {
          "datum": "Carry-to-Risk (GARCH)",
          "scale": {"domain": ["Carry-to-Risk (GARCH)", "Spread (USA−JPY)", "GARCH Vol (ann.)"], "range": ["#006400", "#4682b4", "#ff8c00"]},
          "legend": {"title": null}
        },
        "strokeDash": {
          "datum": "Carry-to-Risk (GARCH)",
          "scale": {"domain": ["Carry-to-Risk (GARCH)", "Spread (USA−JPY)", "GARCH Vol (ann.)"], "range": [[1, 0], [8, 5], [2.5, 3.5]]},
          "legend": {"title": null}
        }
      }
    },
    {
      "data": {"name": "spread"},
      "mark": {"type": "line", "strokeCap": "butt", "strokeWidth": 2},
      "encoding": {
        "color": {
          "datum": "Spread (USA−JPY)",
          "scale": {"domain": ["Carry-to-Risk (GARCH)", "Spread (USA−JPY)", "GARCH Vol (ann.)"], "range": ["#006400", "#4682b4", "#ff8c00"]},
          "legend": null
        },
        "strokeDash": {
          "datum": "Spread (USA−JPY)",
          "scale": {"domain": ["Carry-to-Risk (GARCH)", "Spread (USA−JPY)", "GARCH Vol (ann.)"], "range": [[1, 0], [8, 5], [2.5, 3.5]]},
          "legend": null
        }
      }
    },
    {
      "data": {"name": "vol"},
      "mark": {"type": "line", "strokeCap": "butt", "strokeWidth": 2},
      "encoding": {
        "color": {
          "datum": "GARCH Vol (ann.)",
          "scale": {"domain": ["Carry-to-Risk (GARCH)", "Spread (USA−JPY)", "GARCH Vol (ann.)"], "range": ["#006400", "#4682b4", "#ff8c00"]},
          "legend": null
        },
        "strokeDash": {
          "datum": "GARCH Vol (ann.)",
          "scale": {"domain": ["Carry-to-Risk (GARCH)", "Spread (USA−JPY)", "GARCH Vol (ann.)"], "range": [[1, 0], [8, 5], [2.5, 3.5]]},
          "legend": null
        }
      }
    }
  ]
}
